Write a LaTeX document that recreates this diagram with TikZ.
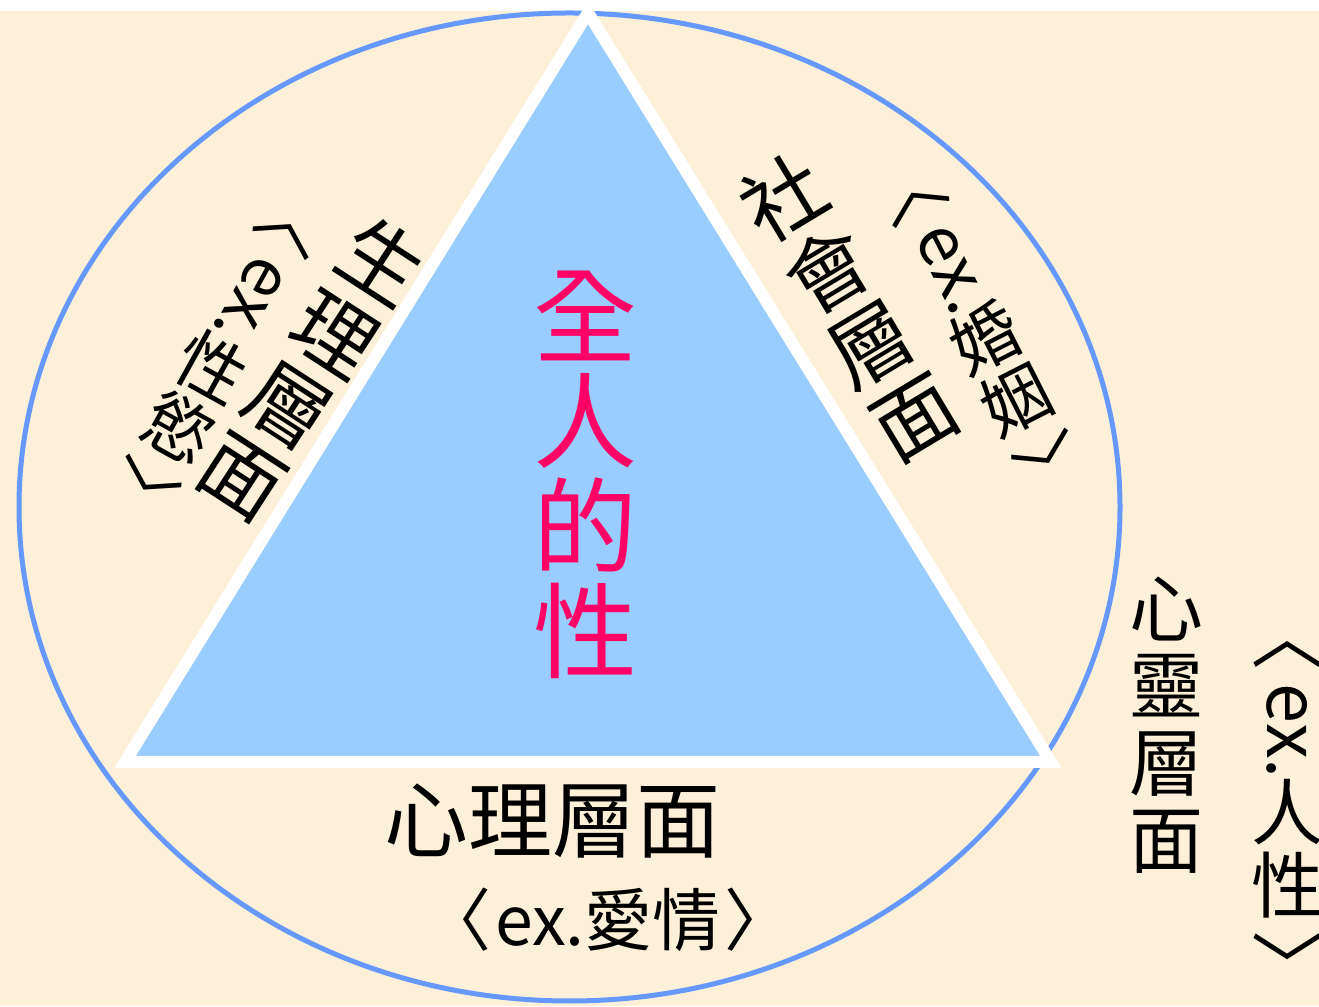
\documentclass[tikz,border=0pt]{standalone}
\usepackage{fontspec}
\setmainfont{Noto Sans CJK TC}
\newfontfamily\cjk{Noto Sans CJK TC}
\definecolor{bgbeige}{HTML}{FCF0D8}
\definecolor{ringblue}{HTML}{6699FF}
\definecolor{trifill}{HTML}{99CCFF}
\definecolor{magtext}{HTML}{FF0066}
\tikzset{
  fs/.style={font=\cjk\fontsize{#1}{#1}\selectfont},
  colfs/.style 2 args={font=\cjk\fontsize{#1}{#2}\selectfont},
  lbl/.style={inner sep=0pt, align=center, text=black},
  vc/.style={inner sep=0pt, transform shape, text=black, font=\cjk\fontsize{72}{72}\selectfont},
  pics/vcol/.style 2 args={code={
    \node[vc] (-o) at (0,146) {︿};
    \node[vc, rotate=-90] (-e) at (0,69) {ex.};
    \node[vc] (-a) at (0,-12) {#1};
    \node[vc] (-b) at (0,-85) {#2};
    \node[vc] (-c) at (0,-164) {﹀};
  }}
}
\begin{document}
\begin{tikzpicture}[x=1pt,y=1pt]
  \useasboundingbox (0,0) rectangle (1319,1006);
  \fill[white] (0,0) rectangle (1319,1006);
  \fill[bgbeige] (0,0) rectangle (1319,995);
  % ring
  \draw[ringblue, line width=5pt] (569.5,499) ellipse [x radius=550.5, y radius=494];
  % triangle
  \coordinate (ta) at (588,993.3);
  \coordinate (tl) at (125,244);
  \coordinate (tr) at (1051,244);
  \filldraw[fill=trifill, draw=white, line width=12pt, line join=miter] (ta) -- (tl) -- (tr) -- cycle;
  % center text
  \node[lbl, text=magtext, colfs={104}{105}] (whole) at (585,531) {全\\人\\的\\性};
  % left side
  \node[lbl, colfs={82}{85}, rotate=-33] (bio) at (312,637) {生\\理\\層\\面};
  \pic[rotate=-29, scale=0.95] (L) at (218,649) {vcol={性}{慾}};
  % right side
  \node[lbl, colfs={82}{85}, rotate=31] (soc) at (849,699) {社\\會\\層\\面};
  \pic[rotate=27, scale=0.95] (R) at (980,678) {vcol={婚}{姻}};
  % bottom
  \node[lbl, fs=84] (psy) at (552,184.5) {心理層面};
  \node[lbl, fs=68] (psyex) at (608,86) {{\spaceskip=.06em〈 ex.愛情 〉}};
  % far right
  \node[lbl, colfs={74}{77}] (spi) at (1166,281) {心\\靈\\層\\面};
  \pic (S) at (1287,206) {vcol={人}{性}};
\end{tikzpicture}
\end{document}
